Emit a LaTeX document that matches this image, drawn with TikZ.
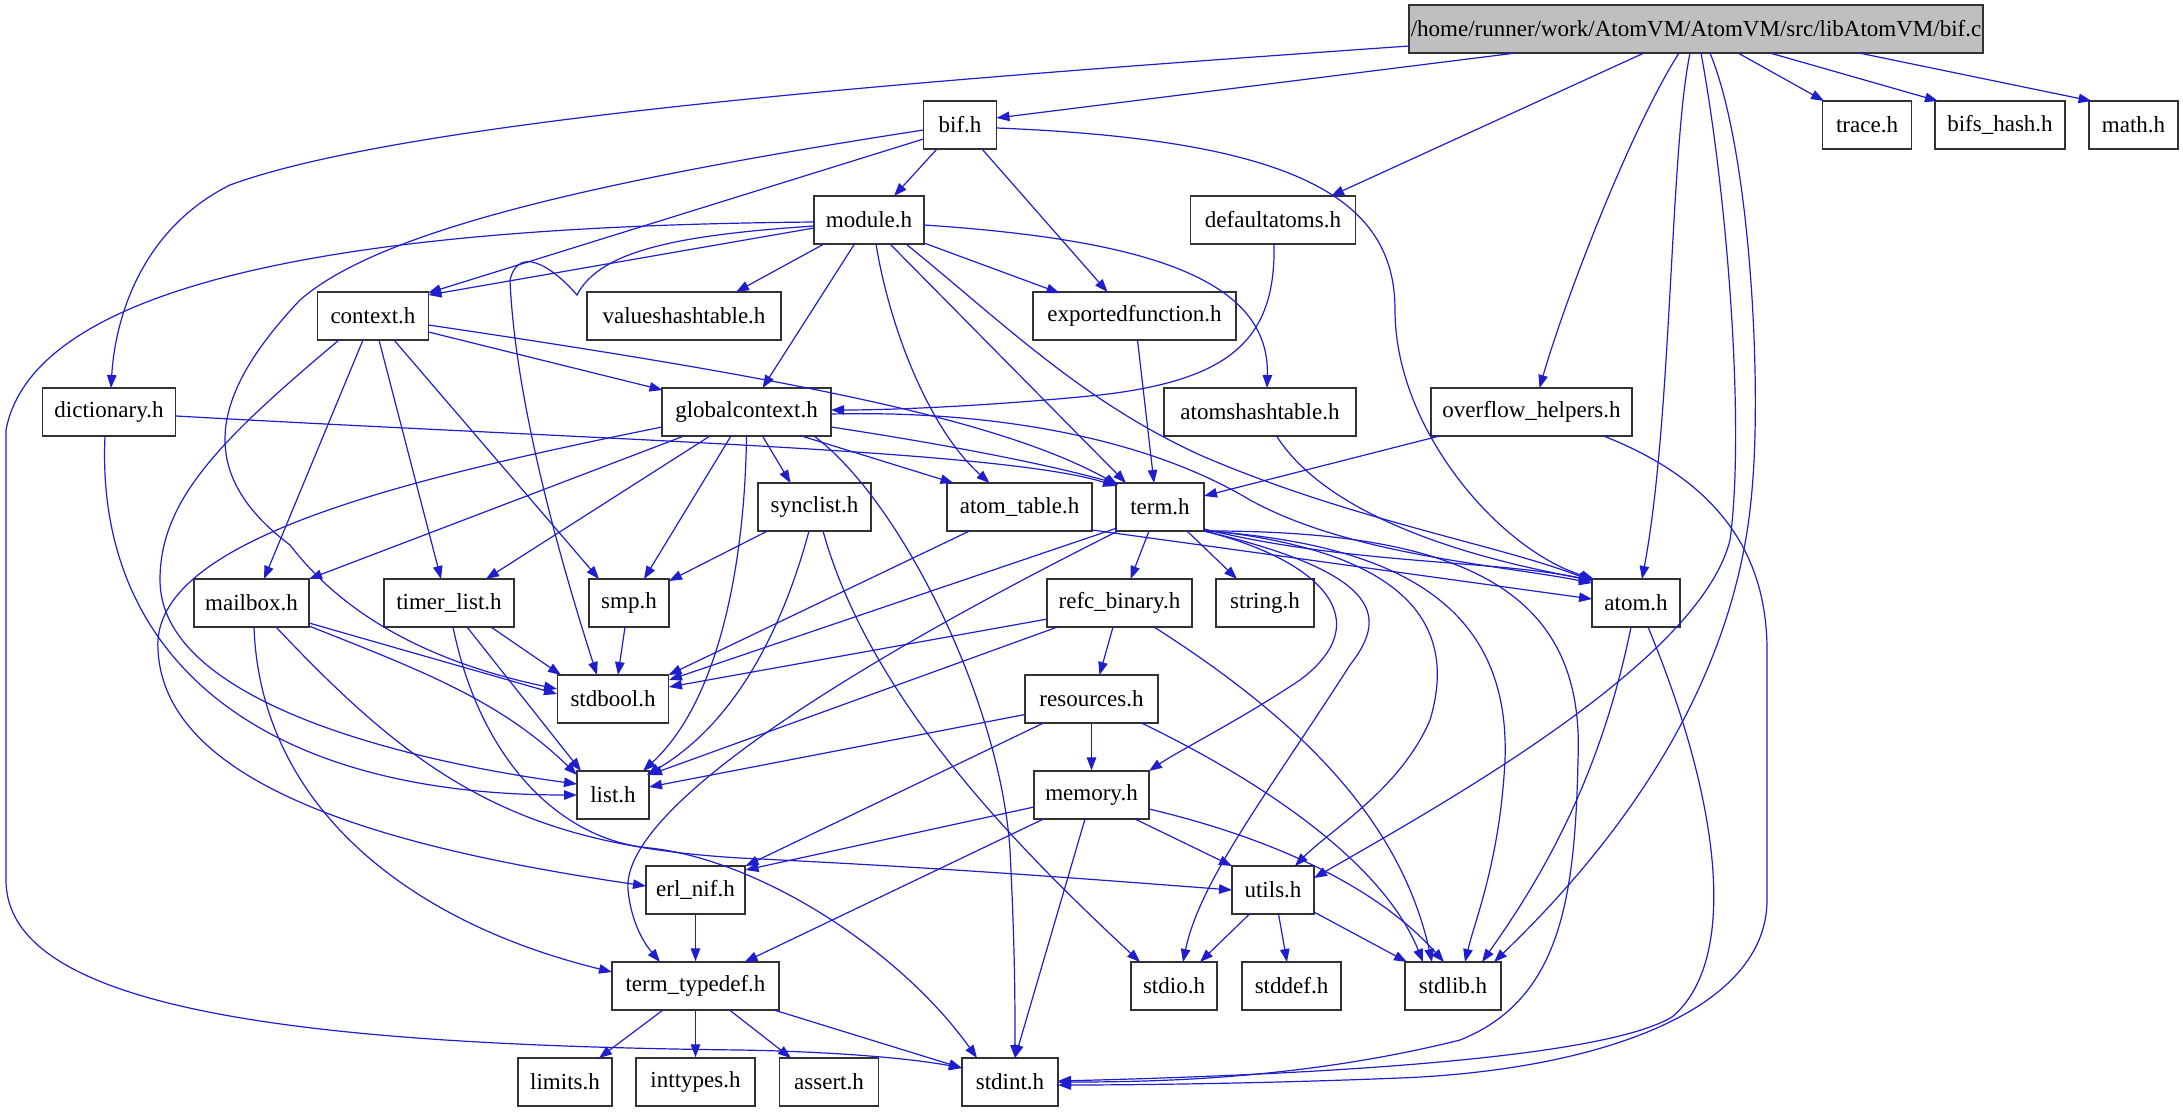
\documentclass[tikz,border=0pt]{standalone}
\usepackage{fontspec}
\setmainfont{Liberation Serif}
\usetikzlibrary{arrows.meta,calc}
\definecolor{edgeblue}{RGB}{30,30,205}
\definecolor{nodeborder}{RGB}{50,50,50}
\begin{document}
\begin{tikzpicture}[x=1pt,y=-1pt,
  nd/.style={draw=nodeborder, line width=1.4pt, fill=white, minimum height=48pt, inner sep=0pt,
     font=\fontsize{23}{28}\selectfont},
  e/.style={draw=edgeblue, line width=1.2pt, -{Triangle[length=13pt,width=9.5pt]}, fill=none}]
\fill[white] (0,0) rectangle (2183,1115);
\useasboundingbox (0,0) rectangle (2183,1115);
% rank 0
\node[nd, minimum width=574pt, fill=gray!50] (bifc) at (1696,29) {/home/runner/work/AtomVM/AtomVM/src/libAtomVM/bif.c};
% rank 1
\node[nd, minimum width=73pt] (bifh) at (960,125) {bif.h};
\node[nd, minimum width=89pt] (trace) at (1867,125) {trace.h};
\node[nd, minimum width=130pt] (bifshash) at (2000,125) {bifs\_hash.h};
\node[nd, minimum width=89pt] (math) at (2133.5,125) {math.h};
% rank 2
\node[nd, minimum width=110pt] (module) at (869,220) {module.h};
\node[nd, minimum width=165.5pt] (defaultatoms) at (1273,220) {defaultatoms.h};
% rank 3
\node[nd, minimum width=111pt] (context) at (373,316) {context.h};
\node[nd, minimum width=194pt] (valueshash) at (684,316) {valueshashtable.h};
\node[nd, minimum width=203pt] (exportedfn) at (1134.5,316) {exportedfunction.h};
% rank 4
\node[nd, minimum width=133.5pt] (dictionary) at (109,412) {dictionary.h};
\node[nd, minimum width=169pt] (globalctx) at (746.5,412) {globalcontext.h};
\node[nd, minimum width=192pt] (atomshash) at (1260,412) {atomshashtable.h};
\node[nd, minimum width=201pt] (overflow) at (1531.5,412) {overflow\_helpers.h};
% rank 5
\node[nd, minimum width=113pt] (synclist) at (814.5,507) {synclist.h};
\node[nd, minimum width=145pt] (atomtable) at (1019.5,507) {atom\_table.h};
\node[nd, minimum width=88pt] (term) at (1160,507) {term.h};
% rank 6
\node[nd, minimum width=115pt] (mailbox) at (251.5,603) {mailbox.h};
\node[nd, minimum width=130pt] (timerlist) at (449,603) {timer\_list.h};
\node[nd, minimum width=80pt] (smp) at (629,603) {smp.h};
\node[nd, minimum width=145pt] (refc) at (1119.5,603) {refc\_binary.h};
\node[nd, minimum width=98pt] (string) at (1265,603) {string.h};
\node[nd, minimum width=88pt] (atom) at (1636,603) {atom.h};
% rank 7
\node[nd, minimum width=111.5pt] (stdbool) at (613,699) {stdbool.h};
\node[nd, minimum width=133pt] (resources) at (1091.5,699) {resources.h};
% rank 8
\node[nd, minimum width=72pt] (list) at (613,795) {list.h};
\node[nd, minimum width=115pt] (memory) at (1091.5,795) {memory.h};
% rank 9
\node[nd, minimum width=99pt] (erlnif) at (695.5,890) {erl\_nif.h};
\node[nd, minimum width=82pt] (utils) at (1273,890) {utils.h};
% rank 10
\node[nd, minimum width=167pt] (termtypedef) at (695.5,986) {term\_typedef.h};
\node[nd, minimum width=86pt] (stdio) at (1174,986) {stdio.h};
\node[nd, minimum width=99pt] (stddef) at (1291.5,986) {stddef.h};
\node[nd, minimum width=96pt] (stdlib) at (1453,986) {stdlib.h};
% rank 11
\node[nd, minimum width=94pt] (limits) at (565,1082) {limits.h};
\node[nd, minimum width=119pt] (inttypes) at (695.5,1082) {inttypes.h};
\node[nd, minimum width=98.5pt] (assert) at (829,1082) {assert.h};
\node[nd, minimum width=96pt] (stdint) at (1010,1082) {stdint.h};

% ---- bif.c
\draw[e] ($(bifc)+(-287,17)$) .. controls (1000,75) and (420,115) .. (230,185) .. controls (140,230) and (115,320) .. ($(dictionary)+(2,-24)$);
\draw[e] ($(bifc)+(-180,24)$) -- ($(bifh)+(36.5,-7)$);
\draw[e] ($(bifc)+(-52,24)$) -- ($(defaultatoms)+(58,-24)$);
\draw[e] ($(bifc)+(-17,24)$) .. controls (1630,130) and (1565,300) .. ($(overflow)+(8,-24)$);
\draw[e] ($(bifc)+(-6,24)$) .. controls (1670,150) and (1672,420) .. ($(atom)+(6,-24)$);
\draw[e] ($(bifc)+(5,24)$) .. controls (1728,200) and (1745,430) .. (1730,540) .. controls (1700,660) and (1450,800) .. ($(utils)+(41,-12)$);
\draw[e] ($(bifc)+(14,24)$) .. controls (1750,150) and (1762,380) .. (1752,490) .. controls (1735,700) and (1600,860) .. ($(stdlib)+(41,-24)$);
\draw[e] ($(bifc)+(42,24)$) -- ($(trace)+(-43,-24)$);
\draw[e] ($(bifc)+(74,24)$) -- ($(bifshash)+(-62,-24)$);
\draw[e] ($(bifc)+(163,24)$) -- ($(math)+(-42,-24)$);
% ---- bif.h
\draw[e] ($(bifh)+(-23,24)$) -- ($(module)+(25,-24)$);
\draw[e] ($(bifh)+(22,24)$) -- ($(exportedfn)+(-27,-24)$);
\draw[e] ($(bifh)+(36.5,3)$) .. controls (1300,140) and (1395,200) .. (1395,310) .. controls (1395,430) and (1500,550) .. ($(atom)+(-42,-24)$);
\draw[e] ($(bifh)+(-36.5,14)$) -- ($(context)+(55,-23)$);
\draw[e] ($(bifh)+(-36.5,5)$) .. controls (600,180) and (380,230) .. (300,300) .. controls (215,390) and (190,470) .. (290,545) .. controls (340,610) and (420,660) .. ($(stdbool)+(-56,-10)$);
% ---- module.h
\draw[e] ($(module)+(-55,8)$) -- ($(context)+(55.5,-21)$);
\draw[e] ($(module)+(-55,2)$) .. controls (500,225) and (40,250) .. (6,430) -- (6,880) .. controls (6,1010) and (300,1045) .. (740,1050) .. controls (850,1052) and (920,1060) .. ($(stdint)+(-48,-14)$);
\draw[e] ($(module)+(-55,6)$) .. controls (680,235) and (600,250) .. (577,295) .. controls (560,275) and (520,240) .. (510,280) .. controls (515,400) and (560,560) .. ($(stdbool)+(-16,-24)$);
\draw[e] ($(module)+(-45,24)$) -- ($(valueshash)+(52,-24)$);
\draw[e] ($(module)+(-14.5,24)$) -- ($(globalctx)+(16,-24)$);
\draw[e] ($(module)+(7,24)$) .. controls (890,330) and (930,430) .. ($(atomtable)+(-30,-24)$);
\draw[e] ($(module)+(21,24)$) -- ($(term)+(-34,-24)$);
\draw[e] ($(module)+(37,24)$) .. controls (1000,320) and (1080,400) .. (1200,455) .. controls (1350,520) and (1500,545) .. ($(atom)+(-44,-22)$);
\draw[e] ($(module)+(55,23)$) -- ($(exportedfn)+(-75,-23)$);
\draw[e] ($(module)+(55,5)$) .. controls (1150,240) and (1270,280) .. ($(atomshash)+(7,-24)$);
% ---- defaultatoms, exportedfunction
\draw[e] ($(defaultatoms)+(1,24)$) .. controls (1276,340) and (1230,380) .. (1100,395) .. controls (1000,405) and (900,410) .. ($(globalctx)+(84.5,-2)$);
\draw[e] ($(exportedfn)+(3,24)$) -- ($(term)+(-6,-24)$);
% ---- context.h
\draw[e] ($(context)+(55.5,9)$) .. controls (800,380) and (1000,420) .. ($(term)+(-42,-22)$);
\draw[e] ($(context)+(55.5,16)$) -- ($(globalctx)+(-84,-22)$);
\draw[e] ($(context)+(-34,24)$) .. controls (220,440) and (160,500) .. (160,580) .. controls (160,700) and (400,760) .. ($(list)+(-36,-11)$);
\draw[e] ($(context)+(-10,24)$) -- ($(mailbox)+(12.5,-24)$);
\draw[e] ($(context)+(6,24)$) -- ($(timerlist)+(-8,-24)$);
\draw[e] ($(context)+(21,24)$) -- ($(smp)+(-30,-24)$);
% ---- dictionary.h
\draw[e] ($(dictionary)+(67,4)$) .. controls (600,440) and (1000,450) .. ($(term)+(-44,-21)$);
\draw[e] ($(dictionary)+(-4,24)$) .. controls (95,650) and (250,795) .. ($(list)+(-36,0)$);
% ---- globalcontext.h
\draw[e] ($(globalctx)+(-84.5,15)$) .. controls (400,480) and (150,540) .. (158,650) .. controls (165,790) and (400,850) .. ($(erlnif)+(-49.5,-4)$);
\draw[e] ($(globalctx)+(-62.5,24)$) -- ($(mailbox)+(57.5,-24)$);
\draw[e] ($(globalctx)+(-36.5,24)$) -- ($(timerlist)+(37,-24)$);
\draw[e] ($(globalctx)+(-15.5,24)$) -- ($(smp)+(15,-24)$);
\draw[e] ($(globalctx)+(0,24)$) .. controls (745,560) and (720,700) .. ($(list)+(30,-24)$);
\draw[e] ($(globalctx)+(16,24)$) -- ($(synclist)+(-24,-24)$);
\draw[e] ($(globalctx)+(55,24)$) -- ($(atomtable)+(-66,-24)$);
\draw[e] ($(globalctx)+(67.5,24)$) .. controls (900,500) and (1000,700) .. (1010,850) .. controls (1015,950) and (1015,1000) .. ($(stdint)+(5,-24)$);
\draw[e] ($(globalctx)+(84.5,15)$) .. controls (950,445) and (1050,465) .. ($(term)+(-42,-23)$);
\draw[e] ($(globalctx)+(84.5,2)$) .. controls (1000,410) and (1150,440) .. (1250,500) .. controls (1350,555) and (1500,565) .. ($(atom)+(-44,-20)$);
% ---- synclist.h
\draw[e] ($(synclist)+(-47,24)$) -- ($(smp)+(40,-22)$);
\draw[e] ($(synclist)+(-5.5,24)$) .. controls (785,620) and (740,720) .. ($(list)+(34,-20)$);
\draw[e] ($(synclist)+(8.5,24)$) .. controls (870,700) and (1020,850) .. ($(stdio)+(-34,-24)$);
% ---- atom_table.h
\draw[e] ($(atomtable)+(-50,24)$) -- ($(stdbool)+(55.5,-24)$);
\draw[e] ($(atomtable)+(72.5,23)$) -- ($(atom)+(-44,-4)$);
% ---- term.h
\draw[e] ($(term)+(-43,21)$) -- ($(stdbool)+(56,-19)$);
\draw[e] ($(term)+(-42,24)$) .. controls (900,640) and (620,800) .. (628,890) .. controls (632,930) and (650,950) .. ($(termtypedef)+(-35.5,-24)$);
\draw[e] ($(term)+(-11,24)$) -- ($(refc)+(11,-24)$);
\draw[e] ($(term)+(27,24)$) -- ($(string)+(-28,-24)$);
\draw[e] ($(term)+(44,24)$) .. controls (1320,560) and (1380,620) .. (1300,680) .. controls (1240,720) and (1180,750) .. ($(memory)+(57.5,-24)$);
\draw[e] ($(term)+(44,24)$) .. controls (1390,575) and (1385,620) .. (1350,665) .. controls (1270,790) and (1200,880) .. ($(stdio)+(9,-24)$);
\draw[e] ($(term)+(44,23)$) .. controls (1400,550) and (1460,620) .. (1430,720) .. controls (1400,790) and (1330,830) .. ($(utils)+(22,-24)$);
\draw[e] ($(term)+(44,22)$) .. controls (1350,565) and (1500,560) .. ($(atom)+(-44,-22)$);
\draw[e] ($(term)+(44,24)$) .. controls (1420,545) and (1510,620) .. (1505,760) .. controls (1500,860) and (1475,920) .. ($(stdlib)+(12,-24)$);
\draw[e] ($(term)+(44,24)$) .. controls (1480,530) and (1585,600) .. (1578,760) .. controls (1575,900) and (1560,1000) .. (1460,1040) .. controls (1300,1080) and (1150,1082) .. ($(stdint)+(48,0)$);
% ---- mailbox.h
\draw[e] ($(mailbox)+(57.5,20)$) -- ($(stdbool)+(-56,-5)$);
\draw[e] ($(mailbox)+(57.5,23)$) .. controls (420,670) and (500,700) .. ($(list)+(-36,-20)$);
\draw[e] ($(mailbox)+(2.5,24)$) .. controls (260,800) and (400,920) .. ($(termtypedef)+(-83.5,-14)$);
\draw[e] ($(mailbox)+(24.5,24)$) .. controls (420,780) and (520,845) .. (740,858) .. controls (950,868) and (1100,880) .. ($(utils)+(-41,0)$);
% ---- timer_list.h
\draw[e] ($(timerlist)+(42,24)$) -- ($(stdbool)+(-52,-24)$);
\draw[e] ($(timerlist)+(18,24)$) -- ($(list)+(-32,-24)$);
\draw[e] ($(timerlist)+(4,24)$) .. controls (480,760) and (560,840) .. (650,848) .. controls (760,860) and (900,950) .. ($(stdint)+(-33,-24)$);
% ---- smp.h
\draw[e] ($(smp)+(-4,24)$) -- ($(stdbool)+(5,-24)$);
% ---- refc_binary.h
\draw[e] ($(refc)+(-72,16)$) -- ($(stdbool)+(56,-12)$);
\draw[e] ($(refc)+(-62,24)$) -- ($(list)+(36,-20)$);
\draw[e] ($(refc)+(-6.5,24)$) -- ($(resources)+(8,-24)$);
\draw[e] ($(refc)+(34.5,24)$) .. controls (1300,720) and (1400,820) .. ($(stdlib)+(-21,-24)$);
% ---- resources.h
\draw[e] ($(resources)+(-66.5,15.5)$) -- ($(list)+(36,-8)$);
\draw[e] ($(resources)+(-48,24)$) -- ($(erlnif)+(50,-24)$);
\draw[e] (resources.south) -- (memory.north);
\draw[e] ($(resources)+(50,24)$) .. controls (1300,800) and (1390,880) .. ($(stdlib)+(-30,-24)$);
% ---- memory.h
\draw[e] ($(memory)+(-57.5,12)$) -- ($(erlnif)+(50,-20)$);
\draw[e] ($(memory)+(-48,24)$) -- ($(termtypedef)+(49,-24)$);
\draw[e] ($(memory)+(-6.5,24)$) -- ($(stdint)+(5,-24)$);
\draw[e] ($(memory)+(43.5,24)$) -- ($(utils)+(-41,-24)$);
\draw[e] ($(memory)+(57.5,14)$) .. controls (1280,840) and (1380,890) .. ($(stdlib)+(-9,-24)$);
% ---- erl_nif.h
\draw[e] (erlnif.south) -- (termtypedef.north);
% ---- utils.h
\draw[e] ($(utils)+(-23.5,24)$) -- ($(stdio)+(26,-24)$);
\draw[e] ($(utils)+(5.5,24)$) -- ($(stddef)+(-4.5,-24)$);
\draw[e] ($(utils)+(41,22)$) -- ($(stdlib)+(-46,-24)$);
% ---- term_typedef.h
\draw[e] ($(termtypedef)+(-32.5,24)$) -- ($(limits)+(34,-24)$);
\draw[e] (termtypedef.south) -- (inttypes.north);
\draw[e] ($(termtypedef)+(34,24)$) -- ($(assert)+(-38,-24)$);
\draw[e] ($(termtypedef)+(78.5,24)$) -- ($(stdint)+(-48,-14)$);
% ---- atom.h
\draw[e] ($(atom)+(-5,24)$) .. controls (1600,780) and (1540,880) .. ($(stdlib)+(29,-24)$);
\draw[e] ($(atom)+(12,24)$) .. controls (1720,800) and (1740,960) .. (1672,1017) .. controls (1600,1060) and (1300,1075) .. ($(stdint)+(48,-1)$);
% ---- overflow_helpers.h
\draw[e] ($(overflow)+(-92,24)$) -- ($(term)+(44,-11)$);
\draw[e] ($(overflow)+(72,24)$) .. controls (1690,470) and (1767,530) .. (1767,650) -- (1767,900) .. controls (1767,1010) and (1600,1070) .. (1400,1078) .. controls (1250,1084) and (1120,1085) .. ($(stdint)+(48,3)$);
% ---- atomshashtable.h
\draw[e] ($(atomshash)+(16.5,24)$) .. controls (1330,520) and (1480,560) .. ($(atom)+(-44,-23)$);
\end{tikzpicture}
\end{document}
